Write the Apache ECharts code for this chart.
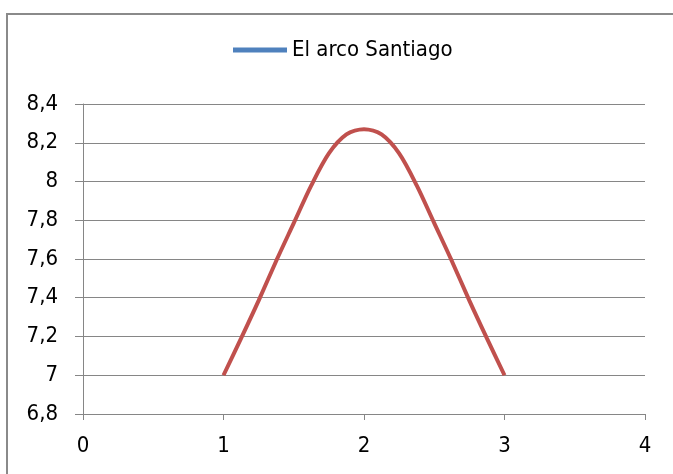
<!DOCTYPE html>
<html>
<head>
<meta charset="utf-8">
<script src="https://cdn.jsdelivr.net/npm/echarts@6/dist/echarts.min.js"></script>
<style>html,body{margin:0;padding:0;background:#fff;}#c{width:673px;height:474px;}</style>
</head>
<body>
<div id="c"></div>
<script>
// Data
const seriesName = 'El arco Santiago';
const xValues = [1.0, 1.125, 1.25, 1.375, 1.5, 1.625, 1.75, 1.875, 2.0, 2.125, 2.25, 2.375, 2.5, 2.625, 2.75, 2.875, 3.0];
const yValues = [7.0, 7.19, 7.385, 7.59, 7.785, 7.98, 8.145, 8.243, 8.27, 8.243, 8.145, 7.98, 7.785, 7.59, 7.385, 7.19, 7.0];
const xTicks = [0, 1, 2, 3, 4];
const yTicks = [6.8, 7.0, 7.2, 7.4, 7.6, 7.8, 8.0, 8.2, 8.4];

const fontFam = '"Liberation Sans Narrow", "DejaVu Sans Condensed", "Liberation Sans", sans-serif';
const gray = '#868686';
const chart = echarts.init(document.getElementById('c'), null, {renderer: 'canvas'});
chart.setOption({
  animation: false,
  backgroundColor: '#fff',
  graphic: [{
    type: 'rect', silent: true,
    shape: {x: 7, y: 14, width: 700, height: 520},
    style: {fill: 'none', stroke: '#8a8a8a', lineWidth: 2}
  }],
  legend: {
    left: 228, top: 34,
    itemWidth: 54, itemHeight: 5,
    textStyle: {fontFamily: fontFam, fontSize: 22, color: '#000'},
    data: [{name: seriesName, icon: 'rect', itemStyle: {color: '#4F81BD'}}]
  },
  grid: {left: 83, right: 28, top: 104, bottom: 60},
  xAxis: {
    type: 'value', min: xTicks[0], max: xTicks[xTicks.length - 1], interval: 1,
    axisLine: {show: true, lineStyle: {color: gray, width: 1}},
    axisTick: {show: true, length: 6, lineStyle: {color: gray}},
    splitLine: {show: false},
    axisLabel: {margin: 21, color: '#000', fontFamily: fontFam, fontSize: 22}
  },
  yAxis: {
    type: 'value', min: yTicks[0], max: yTicks[yTicks.length - 1], interval: 0.2,
    axisLine: {show: true, lineStyle: {color: gray, width: 1}},
    axisTick: {show: true, length: 8, lineStyle: {color: gray}},
    splitLine: {show: true, lineStyle: {color: gray, width: 1}},
    axisLabel: {
      margin: 25, color: '#000', fontFamily: fontFam, fontSize: 22,
      formatter: v => String(Number(v.toFixed(1))).replace('.', ',')
    }
  },
  series: [{
    name: seriesName, type: 'line', smooth: 0.3,
    showSymbol: false, symbol: 'none',
    lineStyle: {color: '#C0504D', width: 4},
    itemStyle: {color: '#C0504D'},
    data: xValues.map((x, i) => [x, yValues[i]])
  }]
});
</script>
</body>
</html>
